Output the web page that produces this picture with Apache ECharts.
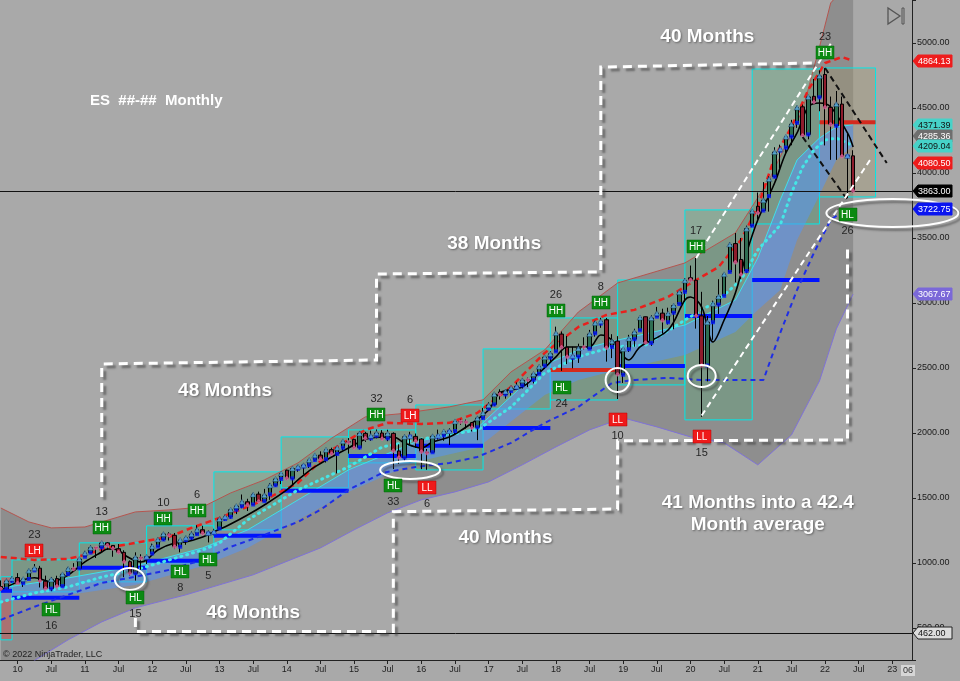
<!DOCTYPE html>
<html><head><meta charset="utf-8">
<script src="https://cdn.jsdelivr.net/npm/echarts@6/dist/echarts.min.js"></script>
<style>html,body{margin:0;padding:0;background:#a9a9a9;}#c{width:960px;height:681px;}</style>
</head><body><div id="c"></div>
<script>
// ---------- categories (monthly, 2009-10 .. 2023-04) ----------
const months = [];
(function () { let y = 2009, m = 10; while (!(y === 2023 && m === 5)) { months.push(y + '-' + (m < 10 ? '0' + m : m)); m++; if (m > 12) { m = 1; y++; } } })();
const idx = {}; months.forEach((m, i) => { idx[m] = i; });

// ---------- monthly candles [open, close, low, high] from 2009-10 ----------
const ohlc = [
  [819,801,785,866],[801,861,794,878],[863,880,850,895],
  // 2010
  [888,846,843,922],[845,876,816,884],[877,941,872,952],[943,959,942,992],[960,861,812,978],[860,803,800,903],
  [803,874,783,892],[880,821,812,902],[822,913,820,922],[915,955,903,968],[957,953,945,999],[959,1030,957,1035],
  // 2011
  [1048,1076,1047,1093],[1080,1117,1079,1135],[1119,1116,1039,1122],[1120,1154,1084,1156],[1155,1135,1101,1161],[1135,1111,1048,1136],
  [1110,1082,1073,1146],[1082,1009,891,1098],[1010,921,904,1020],[921,1043,865,1082],[1042,1037,948,1067],[1037,1048,992,1060],
  // 2012
  [1073,1127,1073,1149],[1127,1181,1127,1193],[1181,1223,1169,1235],[1223,1213,1173,1237],[1213,1125,1107,1231],[1125,1177,1082,1179],
  [1177,1194,1140,1207],[1194,1222,1169,1242],[1222,1256,1212,1290],[1256,1227,1218,1286],[1227,1231,1158,1250],[1231,1241,1213,1263],
  // 2013
  [1266,1338,1266,1350],[1338,1355,1325,1370],[1355,1409,1341,1410],[1409,1438,1376,1440],[1437,1471,1421,1527],[1471,1446,1400,1494],
  [1450,1526,1445,1538],[1530,1473,1467,1549],[1476,1522,1473,1570],[1528,1597,1486,1615],[1598,1646,1587,1653],[1646,1688,1607,1689],
  // 2014
  [1714,1651,1638,1718],[1651,1727,1605,1735],[1725,1740,1702,1752],[1742,1752,1682,1765],[1752,1792,1731,1794],[1792,1828,1783,1836],
  [1830,1799,1798,1859],[1798,1871,1773,1873],[1872,1840,1832,1887],[1839,1886,1689,1888],[1887,1936,1869,1944],[1933,1927,1841,1961],
  // 2015
  [1951,1887,1880,1956],[1889,1997,1873,2012],[1997,1960,1932,2009],[1959,1978,1940,2018],[1979,1999,1959,2027],[2000,1955,1948,2022],
  [1959,1996,1937,2025],[1997,1864,1723,2005],[1862,1812,1763,1913],[1811,1971,1785,1986],[1972,1975,1912,2009],[1974,1936,1885,1996],
  // 2016
  [1954,1855,1722,1960],[1852,1847,1717,1877],[1852,1975,1852,1988],[1972,1980,1949,2026],[1982,2012,1940,2014],[2009,2014,1907,2036],
  [2015,2089,1990,2093],[2088,2086,2063,2109],[2085,2083,2034,2103],[2080,2041,2012,2085],[2044,2114,1945,2129],[2115,2154,2103,2193],
  // 2017
  [2186,2214,2180,2236],[2220,2299,2206,2306],[2316,2298,2257,2336],[2297,2319,2264,2333],[2323,2347,2288,2353],[2350,2358,2341,2389],
  [2366,2405,2342,2419],[2412,2407,2353,2426],[2409,2454,2381,2455],[2456,2510,2455,2517],[2518,2583,2492,2592],[2580,2609,2540,2630],
  // 2018
  [2628,2769,2628,2818],[2761,2659,2478,2781],[2660,2586,2530,2746],[2578,2593,2498,2663],[2588,2650,2539,2687],[2663,2660,2643,2736],
  [2649,2761,2644,2793],[2767,2847,2741,2862],[2842,2859,2809,2886],[2871,2656,2549,2885],[2662,2705,2576,2760],[2707,2451,2261,2745],
  // 2019
  [2448,2646,2385,2650],[2644,2726,2623,2755],[2722,2776,2664,2802],[2790,2888,2790,2891],[2894,2694,2692,2896],[2693,2884,2670,2906],
  [2895,2922,2894,2970],[2922,2868,2764,2956],[2852,2919,2834,2964],[2925,2980,2798,2992],[2992,3083,2992,3096],[3086,3173,3012,3190],
  // 2020
  [3194,3176,3164,3288],[3175,2901,2803,3347],[2901,2519,2124,3086],[2519,2852,2397,2900],[2852,2994,2717,3018],[2988,3050,2916,3183],
  [3055,3221,3051,3230],[3239,3450,3234,3464],[3457,3313,3159,3538],[3335,3220,3184,3500],[3246,3572,3229,3595],[3595,3706,3583,3710],
  // 2021
  [3744,3694,3642,3850],[3711,3791,3705,3930],[3822,3953,3703,3974],[3972,4161,3960,4198],[4172,4184,4036,4218],[4196,4278,4144,4282],
  [4280,4375,4213,4409],[4386,4503,4347,4517],[4509,4288,4286,4526],[4297,4585,4259,4588],[4590,4547,4540,4723],[4582,4746,4475,4789],
  // 2022
  [4758,4505,4212,4808],[4505,4374,4101,4588],[4363,4530,4101,4631],[4530,4128,4124,4588],[4128,4132,3807,4303],[4132,3863,3850,4175]
];

// ---------- indicator lines (values read at knots) ----------
const envUpper = [['2009-10',1423],['2010-03',1316],['2010-07',1270],['2011-01',1277],['2011-10',1393],['2012-04',1408],['2012-10',1431],
  ['2013-03',1539],['2013-09',1639],['2014-03',1770],['2014-09',1960],['2015-03',2124],['2015-09',2147],['2016-06',2201],['2016-12',2255],
  ['2017-05',2470],['2017-11',2639],['2018-05',2931],['2018-12',3154],['2019-12',3308],['2020-09',3539],['2021-03',3946],['2021-09',4485],
  ['2021-12',4969],['2022-02',5308],['2022-06',5503]];
const envLower = [['2009-10',0],['2010-04',250],['2010-10',409],['2011-04',547],['2011-10',655],['2012-07',755],['2013-07',909],['2014-07',1116],
  ['2015-01',1255],['2015-07',1386],['2016-01',1486],['2016-07',1547],['2017-01',1624],['2017-07',1755],['2018-01',1893],['2018-07',2024],
  ['2019-01',2116],['2019-07',2047],['2020-01',1970],['2020-07',1924],['2021-01',1755],['2021-07',1985],['2021-12',2400],['2022-03',2800],
  ['2022-06',3067.67]];
const upperBand = [['2009-10',1047],['2010-04',1024],['2010-10',1032],['2011-01',1063],['2011-05',1117],['2011-10',1155],['2012-04',1201],
  ['2012-08',1270],['2013-01',1347],['2013-06',1432],['2013-09',1485],['2014-03',1616],['2014-09',1870],['2015-03',2024],['2015-07',2078],
  ['2016-01',2070],['2016-06',2078],['2016-11',2155],['2017-05',2355],['2017-11',2616],['2018-05',2816],['2018-10',2908],['2019-03',2947],
  ['2019-09',3047],['2020-02',3177],['2020-06',3277],['2020-10',3485],['2021-01',3739],['2021-04',4123],['2021-07',4354],['2021-10',4639],
  ['2022-01',4846],['2022-04',4892],['2022-06',4864.13]];
const lowerBand = [['2009-10',563],['2010-04',663],['2010-10',755],['2011-04',847],['2011-10',894],['2012-04',947],['2012-10',1024],
  ['2013-03',1124],['2013-09',1217],['2014-03',1316],['2014-07',1409],['2014-12',1563],['2015-06',1693],['2015-12',1739],['2016-06',1770],
  ['2016-11',1816],['2017-05',1924],['2017-11',2078],['2018-05',2201],['2018-11',2385],['2019-03',2408],['2019-09',2424],['2020-03',2408],
  ['2021-02',2408],['2021-05',2770],['2021-08',3100],['2021-11',3385],['2022-02',3640],['2022-04',3700],['2022-06',3722.75]];
const midDotted = [['2009-10',700],['2010-04',769],['2010-10',816],['2011-04',892],['2011-10',946],['2012-04',1023],['2012-10',1100],
  ['2013-01',1154],['2013-06',1331],['2014-03',1562],['2014-12',1739],['2015-06',1892],['2015-12',1946],['2016-11',2023],['2017-05',2200],
  ['2017-11',2462],['2018-05',2585],['2018-11',2662],['2019-05',2677],['2019-12',2869],['2020-06',3023],['2020-10',3177],['2021-01',3408],
  ['2021-05',3600],['2021-07',3846],['2021-09',4046],['2021-11',4177],['2022-01',4254],['2022-03',4269],['2022-06',4209.04]];
const bandTop = [['2009-10',808],['2010-10',885],['2011-10',977],['2012-10',1116],['2013-06',1254],['2014-03',1485],['2014-12',1716],
  ['2015-12',1931],['2016-11',2039],['2017-11',2523],['2018-05',2639],['2018-12',2715],['2019-12',2831],['2020-09',3023],['2021-01',3346],
  ['2021-05',3792],['2021-08',4100],['2021-12',4269],['2022-03',4354],['2022-06',4371.39]];
const bandBottom = [['2009-10',700],['2010-10',754],['2011-10',831],['2012-10',977],['2013-06',1116],['2014-03',1331],['2014-12',1546],
  ['2015-12',1777],['2016-11',1885],['2017-11',2292],['2018-05',2408],['2018-12',2485],['2019-12',2600],['2020-09',2777],['2021-01',2946],
  ['2021-05',3100],['2021-08',3485],['2021-12',3831],['2022-03',4100],['2022-06',4209.04]];
const blackMA = [['2009-10',793],['2010-04',886],['2010-07',855],['2010-10',908],['2011-01',1008],['2011-04',1085],['2011-05',1108],
  ['2011-07',1100],['2011-08',1062],['2011-11',1008],['2011-12',1023],['2012-02',1100],['2012-05',1154],['2012-07',1162],['2012-10',1200],
  ['2012-12',1239],['2013-03',1300],['2013-06',1369],['2013-09',1446],['2014-01',1562],['2014-03',1639],['2014-06',1739],['2014-12',1885],
  ['2015-04',1962],['2015-08',1969],['2015-10',1923],['2016-01',1885],['2016-03',1931],['2016-06',1969],['2016-09',2046],['2017-01',2177],
  ['2017-03',2308],['2017-07',2354],['2017-10',2462],['2018-01',2585],['2018-03',2662],['2018-07',2662],['2018-09',2754],['2018-11',2715],
  ['2019-02',2562],['2019-04',2662],['2019-09',2792],['2019-12',3023],['2020-01',3046],['2020-03',2969],['2020-05',2700],['2020-07',2869],
  ['2020-09',3077],['2020-11',3385],['2021-01',3638],['2021-04',3923],['2021-06',4154],['2021-08',4308],['2021-10',4508],['2021-12',4538],
  ['2022-02',4508],['2022-05',4308],['2022-06',4200]];

// ---------- yearly range boxes [from, to, top, bottom] ----------
const boxes = [['2009-10','2009-12',894,409],['2009-12','2010-12',1024,778],['2010-12','2011-12',1155,855],['2011-12','2012-12',1286,1001],
  ['2012-12','2013-12',1701,1255],['2013-12','2014-12',1970,1578],['2014-12','2015-12',2024,1770],['2015-12','2016-12',2216,1716],
  ['2016-12','2017-12',2647,2185],['2017-12','2018-12',2885,2254],['2018-12','2019-12',3177,2370],['2019-12','2020-12',3716,2101],
  ['2020-12','2021-12',4800,3608],['2021-12','2022-10',4808,3816]];
const blueLevels = [['2009-10','2009-12',786],['2009-12','2010-12',732],['2010-12','2011-12',963],['2011-12','2012-12',1017],
  ['2012-12','2013-12',1209],['2013-12','2014-12',1555],['2014-12','2015-12',1823],['2015-12','2016-12',1901],['2016-12','2017-12',2039],
  ['2018-12','2019-12',2516],['2019-12','2020-12',2900],['2020-12','2021-12',3177]];
const redLevels = [['2017-12','2018-12',2485],['2021-12','2022-10',4390]];

// ---------- swing labels [month, kind, count, label level] ----------
const pivots = [['2010-04','LH','23',1092],['2010-07','HL','16',638],['2011-04','HH','13',1269],['2011-10','HL','15',731],
  ['2012-03','HH','10',1338],['2012-06','HL','8',931],['2012-09','HH','6',1400],['2012-11','HL','5',1023],
  ['2015-05','HH','32',2139],['2015-08','HL','33',1592],['2015-11','LH','6',2131],['2016-02','LL','6',1577],
  ['2018-01','HH','26',2939],['2018-02','HL','24',2346],['2018-09','HH','8',3000],['2018-12','LL','10',2100],
  ['2020-02','HH','17',3431],['2020-03','LL','15',1969],['2022-01','HH','23',4923],['2022-05','HL','26',3677]];

// ---------- drawn annotations ----------
const stairLower = [['2011-10',577],['2011-10',474],['2015-08',474],['2015-08',1395],['2018-12',1415],['2018-12',1940],['2022-05',1946],['2022-05',3431]];
const stairUpper = [['2011-04',1508],['2011-04',2531],['2015-05',2562],['2015-05',3223],['2018-09',3239],['2018-09',4815],['2021-11',4846]];
const blackChannel = [[['2022-01',4808],['2022-12',4077]],[['2021-09',4277],['2022-05',3792]]];
const whiteChannel = [[['2020-02',3345],['2022-02',4994]],[['2020-03',2135],['2022-09',4099]]];
const ellipses = [['2011-09',877,15,11],['2015-11',1716,30,9],['2018-12',2408,12,12],['2020-03',2439,14,11],['2023-01',3692,66,14]];
const notes = [['2013-02',2323,'48 Months'],['2017-02',3454,'38 Months'],['2020-04',5046,'40 Months'],['2013-07',616,'46 Months'],
  ['2017-04',1193,'40 Months'],['2021-01',1462,'41 Months into a 42.4'],['2021-01',1292,'Month average']];
const tagValues = [4864.13,4371.39,4285.36,4209.04,4080.50,3863.00,3722.75,3067.67,462.00];
const tagColors = [['#ee1c1c','#fff'],['#46d2c8','#111'],['#6e6e6e','#fff'],['#46d2c8','#111'],['#ee1c1c','#fff'],['#000','#fff'],['#0a14f0','#fff'],['#7b68d8','#fff'],['#dcdcdc','#111']];
const hLines = [3863, 462];

// ---------- chart ----------
const FONT = '"Liberation Sans", Arial, sans-serif';
const chart = echarts.init(document.getElementById('c'));
const C = (api, m, v) => api.coord([idx[m], v]);
const pts = (api, arr) => arr.map(d => C(api, d[0], d[1]));
function layer(items, z, draw, clip) {
  return { type: 'custom', z: z, silent: true, clip: clip !== false, animation: false,
    data: items.map((_, i) => [i, 0]), encode: { x: 0, y: 1 },
    renderItem: (params, api) => draw(items[params.dataIndex], api, params) };
}
function lineS(data, color, width, type, z, smooth, cap) {
  return { type: 'line', data: data, symbol: 'none', smooth: smooth || false, z: z, silent: true, animation: false,
    lineStyle: { color: color, width: width, type: type, cap: cap || 'butt' } };
}
const upTri = [], upSq = [], dnDot = [];
ohlc.forEach((d, i) => { if (d[1] >= d[0]) { upTri.push([i, d[1]]); upSq.push([i, d[0]]); } else { dnDot.push([i, d[1]]); } });

const shadow = { shadowBlur: 2, shadowOffsetX: 3, shadowOffsetY: 3, shadowColor: 'rgba(60,60,60,0.55)' };

const series = [
  layer([0], 1, (d, api) => ({ type: 'polygon', shape: { points: pts(api, envUpper).concat(pts(api, envLower).reverse()) }, style: { fill: '#8e8e8e' } })),
  layer(boxes, 2, (b, api, p) => {
    const a = C(api, b[0], b[2]), c = C(api, b[1], b[3]);
    const fill = p.dataIndex === 0 ? 'rgba(205,80,80,0.45)' : (p.dataIndex === boxes.length - 1 ? 'rgba(160,150,105,0.35)' : 'rgba(90,170,120,0.35)');
    return { type: 'rect', shape: { x: a[0], y: a[1], width: c[0] - a[0], height: c[1] - a[1] }, style: { fill: fill, stroke: '#00e8e8', lineWidth: 1 } };
  }),
  layer([0], 3, (d, api) => ({ type: 'polygon', shape: { points: pts(api, bandTop).concat(pts(api, bandBottom).reverse()) }, style: { fill: 'rgba(85,150,245,0.55)' } })),
  lineS(envUpper, '#b4554f', 1, 'solid', 3),
  lineS(envLower, '#7f72d6', 1, 'solid', 3),
  lineS(bandTop, '#3fe0ea', 1, 'solid', 3),
  lineS(midDotted, '#45e6e6', 3, [1, 5], 4, false, 'round'),
  lineS(lowerBand, '#1e2ee6', 2, [5, 4], 4),
  lineS(upperBand, '#e8201c', 2.5, [6, 4], 4),
  layer(blueLevels, 4, (s, api) => { const a = C(api, s[0], s[2]), b = C(api, s[1], s[2]);
    return { type: 'line', shape: { x1: a[0], y1: a[1], x2: b[0], y2: b[1] }, style: { stroke: '#0012ff', lineWidth: 4 } }; }),
  layer(redLevels, 4, (s, api) => { const a = C(api, s[0], s[2]), b = C(api, s[1], s[2]);
    return { type: 'line', shape: { x1: a[0], y1: a[1], x2: b[0], y2: b[1] }, style: { stroke: '#d42a1e', lineWidth: 4 } }; }),
  lineS(blackMA, '#000', 1.6, 'solid', 5, 0.35),
  { type: 'candlestick', data: ohlc, z: 6, barWidth: 4, silent: true, animation: false,
    itemStyle: { color: '#2f6e52', color0: '#8e1c2c', borderColor: '#000', borderColor0: '#000', borderWidth: 1 },
    markLine: { silent: true, symbol: 'none', animation: false, label: { show: false },
      lineStyle: { color: '#111', width: 1, type: 'solid' }, data: hLines.map(v => ({ yAxis: v })) } },
  { type: 'scatter', data: upSq, z: 7, symbol: 'rect', symbolSize: 4, silent: true, animation: false, itemStyle: { color: '#0014ff' } },
  { type: 'scatter', data: upTri, z: 7, symbol: 'triangle', symbolSize: [6, 5], silent: true, animation: false, itemStyle: { color: '#5eb2ea', borderColor: '#1c3550', borderWidth: 0.5 } },
  { type: 'scatter', data: dnDot, z: 7, symbol: 'diamond', symbolSize: [5, 5], silent: true, animation: false, itemStyle: { color: '#e0609a' } },
  layer([stairLower, stairUpper], 8, (s, api) => ({ type: 'polyline', shape: { points: pts(api, s) },
    style: Object.assign({ stroke: '#fff', lineWidth: 3, lineDash: [9, 6], fill: null }, shadow) })),
  layer(blackChannel, 8, (s, api) => ({ type: 'polyline', shape: { points: pts(api, s) }, style: { stroke: '#111', lineWidth: 2, lineDash: [6, 4], fill: null } })),
  layer(whiteChannel, 8, (s, api) => ({ type: 'polyline', shape: { points: pts(api, s) }, style: { stroke: '#fff', lineWidth: 2, lineDash: [6, 4], fill: null } })),
  layer(ellipses, 8, (e, api) => { const c = C(api, e[0], e[1]);
    return { type: 'ellipse', shape: { cx: c[0], cy: c[1], rx: e[2], ry: e[3] },
      style: Object.assign({ stroke: '#fff', lineWidth: 2, fill: null }, shadow) }; }, false),
  layer(pivots, 9, (p, api) => {
    const c = C(api, p[0], p[3]);
    const high = p[1] === 'HH' || p[1] === 'LH';
    const green = p[1] === 'HH' || p[1] === 'HL';
    return { type: 'group', children: [
      { type: 'rect', shape: { x: Math.round(c[0] - 9), y: Math.round(c[1] - 7), width: 18, height: 13 }, style: { fill: green ? '#0b8a12' : '#ee1a1a', stroke: green ? '#07600c' : '#b00', lineWidth: 0.5 } },
      { type: 'text', style: { text: p[1], x: c[0], y: c[1], fill: '#fff', font: '10px ' + FONT, align: 'center', verticalAlign: 'middle', textAlign: 'center', textVerticalAlign: 'middle' } },
      { type: 'text', style: { text: p[2], x: c[0], y: c[1] + (high ? -16 : 16), fill: '#262626', font: '11px ' + FONT, align: 'center', verticalAlign: 'middle', textAlign: 'center', textVerticalAlign: 'middle' } }
    ] };
  }, false),
  layer(notes, 9, (n, api) => { const c = C(api, n[0], n[1]);
    return { type: 'text', style: { text: n[2], x: c[0], y: c[1], fill: '#fff', font: 'bold 19px ' + FONT, align: 'center', verticalAlign: 'middle',
      textAlign: 'center', textVerticalAlign: 'middle', textShadowColor: 'rgba(60,60,60,0.6)', textShadowBlur: 2, textShadowOffsetX: 1, textShadowOffsetY: 1 } }; }, false),
  layer(tagValues, 10, (v, api, p) => {
    const y = Math.round(api.coord([0, v])[1]);
    const x0 = p.coordSys.x + p.coordSys.width + 1;
    const col = tagColors[p.dataIndex];
    return { type: 'group', children: [
      { type: 'polygon', shape: { points: [[x0, y], [x0 + 5, y - 6], [x0 + 39, y - 6], [x0 + 39, y + 6], [x0 + 5, y + 6]] },
        style: { fill: col[0], stroke: p.dataIndex === tagValues.length - 1 ? '#222' : col[0], lineWidth: 1 } },
      { type: 'text', style: { text: v.toFixed(2), x: x0 + 5, y: y + 0.5, fill: col[1], font: '9px ' + FONT, align: 'left', verticalAlign: 'middle', textAlign: 'left', textVerticalAlign: 'middle' } }
    ] };
  }, false)
];

chart.setOption({
  animation: false,
  backgroundColor: '#a9a9a9',
  title: { text: 'ES  ##-##  Monthly', left: 85, top: 88, textStyle: { color: '#fff', fontSize: 15, fontWeight: 'bold', fontFamily: FONT } },
  grid: { left: -2, right: 48, top: 0, bottom: 21, outerBoundsMode: 'none', containLabel: false },
  xAxis: { type: 'category', data: months, boundaryGap: true,
    axisLine: { lineStyle: { color: '#222', width: 1 } },
    axisTick: { show: true, length: 4, alignWithLabel: true, lineStyle: { color: '#222' },
      interval: (i, v) => v.endsWith('-01') || v.endsWith('-07') },
    axisLabel: { interval: (i, v) => v.endsWith('-01') || v.endsWith('-07'), margin: 5, fontSize: 9, color: '#222', fontFamily: FONT,
      formatter: v => v.endsWith('-01') ? v.slice(2, 4) : 'Jul' },
    splitLine: { show: false } },
  yAxis: { type: 'value', position: 'right', min: 253.85, max: 5330.77, splitNumber: 10, scale: false,
    axisLine: { show: true, lineStyle: { color: '#222', width: 1 } },
    axisTick: { show: true, length: 4, lineStyle: { color: '#222' } },
    axisLabel: { margin: 5, fontSize: 9, color: '#1a1a1a', fontFamily: FONT,
      formatter: v => (v > 1 && Math.abs(v % 500) < 1e-6) ? v.toFixed(2) : '' },
    splitLine: { show: false } },
  graphic: [
    { type: 'text', x: 3, y: 650, z: 100, style: { text: '\u00a9 2022 NinjaTrader, LLC', fill: '#222', font: '9px ' + FONT } },
    { type: 'polygon', z: 100, shape: { points: [[888, 8], [888, 24], [900, 16]] }, style: { fill: null, stroke: '#555', lineWidth: 1.3 } },
    { type: 'rect', z: 100, shape: { x: 902, y: 8, width: 2, height: 16 }, style: { fill: null, stroke: '#555', lineWidth: 1 } },
    { type: 'text', x: 901, y: 665, z: 100, style: { text: '06', fill: '#333', font: '9px ' + FONT, backgroundColor: '#d6d6d6', padding: [1, 2] } }
  ],
  series: series
});
</script></body></html>
